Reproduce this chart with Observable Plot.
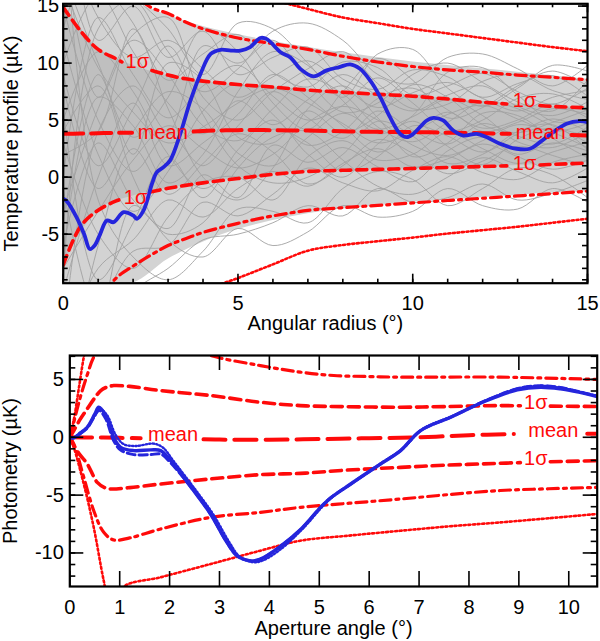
<!DOCTYPE html>
<html><head><meta charset="utf-8">
<script src="https://cdn.jsdelivr.net/npm/d3@7"></script>
<script src="https://cdn.jsdelivr.net/npm/@observablehq/plot@0.6"></script>
<style>body{margin:0;background:#fff;} #c svg{display:block;}</style>
</head><body><div id="c"></div>
<script>
// ---------------- TOP PANEL DATA (Temperature profile vs angular radius) ----------------
const topXTicks = [0, 5, 10, 15];
const topYTicks = [15, 10, 5, 0, -5];
const topXLabel = "Angular radius (°)";
const topYLabel = "Temperature profile (µK)";

// simulated profiles (gray), sampled at integer radii
const grayX = [0,1,2,3,4,5,6,7,8,9,10,11,12,13,14,15];
const graySims = [
 [17, 9.6, 5.7, 3.0, 4.4, 6.5, 7.8, 6.5, 4.7, 3.0, 4.0, 5.5, 6.3, 5.1, 4.0, 4.7],
 [-8, -3, 1.5, 4.5, 2.5, 0.8, 2.0, 4.8, 6.2, 5.0, 2.8, 1.9, 3.2, 4.6, 3.9, 2.6],
 [22, 14, 10.5, 12.0, 9.5, 7.0, 8.8, 10.2, 8.0, 6.1, 7.4, 8.3, 6.9, 5.8, 7.0, 7.6],
 [-15, -8, -5.5, -2.0, -3.5, -1.0, 0.5, -0.8, 1.2, 2.5, 0.9, 1.6, 2.9, 1.8, 0.7, 1.5],
 [5, 11, 7.5, 2.0, -1.0, 1.5, 4.2, 3.0, 0.5, 1.8, 4.5, 3.6, 2.2, 3.8, 5.1, 4.0],
 [12, 2, -3.0, 0.5, 5.8, 8.2, 5.5, 2.8, 4.0, 6.9, 7.8, 5.9, 4.3, 5.0, 6.4, 5.2],
 [-3, 6, 12.0, 9.0, 4.5, 3.2, 6.0, 8.6, 7.3, 4.4, 3.1, 4.8, 6.6, 6.0, 4.5, 3.6],
 [25, 18, 13.5, 8.5, 10.8, 12.5, 9.2, 7.9, 10.1, 9.6, 7.2, 8.0, 9.1, 7.5, 6.4, 7.8],
 [-12, -11, -6.5, -6.0, -2.2, -3.4, -1.5, 0.8, -0.5, -1.2, 0.6, 1.8, 0.4, -0.2, 1.3, 2.0],
 [8, -1, 4.0, 7.5, 6.0, 2.1, 1.0, 3.5, 5.6, 4.2, 5.3, 6.8, 5.4, 3.1, 2.6, 3.9],
 [0, 14, 9.0, 5.2, 8.0, 9.8, 7.1, 5.0, 6.3, 8.7, 6.5, 4.1, 5.0, 6.9, 7.3, 6.0],
 [-20, -6, 2.5, -1.5, 1.2, 3.8, 2.2, -0.6, 1.0, 3.3, 2.1, 0.3, 1.4, 2.7, 1.9, 0.9],
 [15, 5, 0.5, 3.8, 1.0, 4.5, 7.5, 5.2, 3.4, 5.8, 4.1, 2.9, 4.7, 3.6, 2.9, 4.4],
 [30, 12, 15.0, 10.5, 12.8, 9.0, 10.5, 11.4, 8.6, 7.7, 9.4, 8.8, 7.0, 8.2, 8.9, 7.1],
 [-6, 3, -2.0, -4.5, 0.2, -1.8, 2.8, 1.3, 2.6, 0.9, -0.4, 2.3, 3.5, 2.0, 3.0, 2.3],
 [10, 16, 11.0, 6.5, 3.8, 6.7, 4.6, 6.8, 9.0, 7.1, 5.8, 7.2, 8.0, 6.2, 5.4, 6.6],
 [-10, 0, 6.5, 1.0, 3.0, 5.5, 9.0, 7.0, 4.5, 2.2, 3.9, 5.7, 4.0, 4.8, 6.0, 5.5],
 [3, -5, -8.0, -3.5, -0.5, 0.0, -2.0, 1.8, 3.2, 1.5, 2.0, 3.9, 2.5, 1.2, 2.2, 3.1],
 [20, 7, 12.5, 14.0, 7.0, 5.0, 7.5, 9.5, 11.0, 8.2, 6.0, 6.4, 8.4, 9.0, 7.6, 6.8],
 [-4, 9, 2.0, 10.0, 8.5, 3.5, 3.0, 5.8, 3.9, 5.4, 8.1, 7.0, 4.6, 3.9, 4.8, 5.9],
 [6, -9, -4.0, 1.8, -1.8, 2.4, 5.0, 2.0, 0.0, 2.9, 4.9, 2.7, 1.1, 3.3, 4.3, 3.0],
 [-14, 4, 8.0, 4.0, 11.5, 10.0, 12.0, 8.5, 5.7, 6.5, 9.0, 10.0, 8.3, 6.6, 5.8, 8.5],
 [9, 1, 6.0, 11.5, 5.5, 1.0, -0.5, 0.0, 2.0, 4.9, 3.6, 1.2, 2.0, 4.0, 4.6, 2.4],
 [-1, -12, -2.5, -5.0, -4.0, 0.8, 3.5, 4.0, 1.5, -0.8, -1.5, 0.0, 1.7, 0.5, -0.5, 0.8],
 [18, 10, 3.5, 7.0, 13.0, 11.0, 6.5, 4.2, 7.5, 10.4, 8.5, 5.2, 6.1, 8.0, 9.3, 8.0],
 [-7, 7, 4.5, -0.5, 2.0, 7.5, 11.0, 9.8, 6.7, 3.8, 5.4, 9.2, 9.6, 7.2, 4.9, 5.0],
 [13, 20, 16.0, 13.0, 9.0, 13.5, 13.0, 10.0, 7.0, 10.8, 11.2, 7.8, 6.2, 7.8, 9.8, 9.3],
 [-17, -14, -10.0, -8.0, -5.5, -5.0, -4.0, -2.5, -3.4, -1.0, -2.2, -1.8, -0.6, -2.0, -1.4, -0.3],
 [2, 4, 13.0, 6.0, 0.0, -2.0, 0.8, 6.0, 8.0, 5.2, 1.8, 3.0, 5.6, 5.4, 3.4, 1.7],
 [24, -2, -7.0, -9.0, -6.5, -2.8, -3.0, -4.0, -1.0, 0.5, -0.2, -2.5, -1.0, 0.8, 0.2, -1.8],
 [-9, 13, 15.5, 11.0, 7.5, 9.5, 12.8, 13.5, 12.0, 9.0, 8.2, 10.5, 10.8, 9.5, 8.0, 9.8],
 [4, 8, 0.0, -5.5, -7.0, -4.5, -6.0, -4.8, -2.5, -3.5, -3.0, -1.0, -2.5, -2.8, -1.0, -2.2]
];
// density envelope of the gray bundle (outer ~2σ, inner ~1σ)
const grayOuterHi = [15.2, 15.2, 15.2, 14.2, 13.2, 12.5, 11.9, 11.4, 10.9, 10.5, 10.1, 9.8, 9.5, 9.2, 8.9, 8.6];
const grayOuterLo = [-9.3, -9.3, -9.3, -7.2, -5.7, -4.6, -3.8, -3.2, -2.8, -2.5, -2.2, -2.0, -1.8, -1.6, -1.4, -1.3];
const grayInnerHi = [15.2, 11.3, 9.8, 8.9, 8.4, 8.1, 7.9, 7.7, 7.5, 7.3, 7.1, 6.9, 6.6, 6.4, 6.2, 6.1];
const grayInnerLo = [-7.7, -2.9, -1.65, -0.98, -0.5, -0.12, 0.25, 0.5, 0.6, 0.68, 0.76, 0.85, 0.93, 1.02, 1.12, 1.23];

// red statistic curves (NaN = gap under a label)
const topGridX = [0, 0.5, 1, 1.5, 2, 2.5, 3, 3.5, 4, 5, 6, 7, 8, 9, 10, 11, 12, 13, 14, 15];
const topMeanX = [0, 0.5, 1, 1.5, 1.97, 2.9, 3.73, 4, 5, 6, 7, 8, 9, 10, 11, 12, 12.78, 13.7, 14.54, 15];
const topMeanY = [3.8, 3.82, 3.85, 3.88, 3.9, NaN, 4.0, 4.05, 4.12, 4.12, 4.08, 4.02, 3.97, 3.95, 3.9, 3.85, 3.8, NaN, 3.7, 3.66];
const topSig1UpX = [0, 0.5, 1, 1.5, 1.68, 2.1, 2.54, 3, 3.5, 4, 5, 6, 7, 8, 9, 10, 11, 12, 12.69, 13.2, 13.64, 14, 15];
const topSig1UpY = [14.9, 12.8, 11.2, 10.4, 10.1, NaN, 9.35, 8.95, 8.62, 8.42, 8.12, 7.9, 7.63, 7.45, 7.27, 7.1, 6.85, 6.57, 6.42, NaN, 6.28, 6.2, 6.08];
const topSig1LoX = [0, 0.5, 1, 1.5, 1.59, 2.05, 2.49, 3, 3.5, 4, 5, 6, 7, 8, 9, 10, 11, 12, 12.69, 13.2, 13.64, 14, 15];
const topSig1LoY = [-7.7, -4.3, -2.9, -2.1, -2.0, NaN, -1.3, -0.98, -0.72, -0.5, -0.12, 0.25, 0.5, 0.6, 0.68, 0.76, 0.85, 0.93, 0.99, NaN, 1.07, 1.12, 1.23];
const topSig2Up = [26, 23, 20.5, 18.5, 16.2, 14.9, 14.35, 13.6, 13.0, 12.2, 11.7, 11.2, 10.6, 10.1, 9.7, 9.4, 9.2, 8.95, 8.75, 8.54];
const topSig2Lo = [-20, -15, -11, -8.9, -7.8, -6.85, -6.0, -5.4, -4.85, -4.05, -3.4, -2.92, -2.68, -2.48, -2.26, -2.05, -1.85, -1.65, -1.45, -1.23];
const topSig3Up = [37, 33, 30, 27, 25, 23, 21.5, 20.2, 19, 17, 15.6, 14.75, 14.0, 13.5, 13.0, 12.6, 12.2, 11.8, 11.4, 11.05];
const topSig3Lo = [-30, -26, -23, -20.5, -18, -16, -14, -11.2, -10.0, -8.85, -7.65, -6.45, -5.95, -5.62, -5.3, -4.95, -4.65, -4.35, -4.0, -3.65];

// observed profile (blue)
const topObsX = [0, 0.1, 0.38, 0.6, 0.76, 0.9, 1.06, 1.25, 1.44, 1.73, 2.0, 2.11, 2.3, 2.54, 2.68, 2.87, 3.06, 3.35, 3.64, 3.93, 4.22, 4.5, 4.8, 5.07, 5.35, 5.64, 5.83, 6.21, 6.5, 6.78, 7.16, 7.54, 7.9, 8.21, 8.49, 8.78, 9.07, 9.35, 9.64, 9.83, 10.02, 10.4, 10.59, 10.87, 11.16, 11.45, 11.83, 12.11, 12.5, 12.97, 13.35, 13.64, 14.02, 14.4, 14.78, 15];
const topObsY = [-1.9, -2.1, -3.5, -5.0, -6.3, -6.0, -4.97, -3.8, -3.95, -3.07, -3.36, -3.65, -2.92, -0.58, 0.44, 0.88, 1.47, 3.8, 6.7, 9.07, 10.8, 11.17, 11.1, 11.1, 11.4, 12.2, 12.1, 10.97, 10.5, 9.5, 8.83, 9.36, 9.65, 9.89, 9.5, 8.48, 7.02, 5.26, 3.8, 3.51, 3.8, 4.97, 5.2, 4.97, 4.09, 3.65, 3.8, 3.51, 2.92, 2.49, 2.49, 3.07, 3.95, 4.68, 4.91, 4.82];

const topLabelText = ["1σ", "mean", "1σ", "1σ", "mean", "1σ"];
const topLabelX = [2.12, 2.85, 2.07, 13.2, 13.66, 13.2];
const topLabelY = [10.1, 3.95, -1.75, 6.7, 3.95, 1.2];

// ---------------- BOTTOM PANEL DATA (Photometry vs aperture angle) ----------------
const botXTicks = [0,1,2,3,4,5,6,7,8,9,10];
const botYTicks = [5, 0, -5, -10];
const botXLabel = "Aperture angle (°)";
const botYLabel = "Photometry (µK)";

const botMeanX = [0, 0.5, 1, 1.42, 2.05, 2.68, 3, 4, 5, 6, 7, 8, 8.9, 9.6, 10.37, 10.57];
const botMeanY = [0, -0.02, -0.05, -0.09, NaN, -0.18, -0.2, -0.22, -0.15, -0.08, 0.0, 0.18, 0.28, NaN, 0.3, 0.3];
const botSig1UpX = [0, 0.08, 0.2, 0.35, 0.5, 0.62, 0.75, 0.88, 1.2, 1.82, 2.82, 3.82, 4.62, 5.5, 6.63, 7.5, 8.63, 9.03, 9.35, 9.63, 10.57];
const botSig1UpY = [0, 0.58, 1.5, 2.46, 3.4, 4.04, 4.35, 4.47, 4.4, 4.04, 3.61, 3.03, 2.74, 2.65, 2.6, 2.65, 2.74, 2.72, NaN, 2.69, 2.66];
const botSig1LoX = [0, 0.08, 0.2, 0.35, 0.55, 0.7, 0.82, 1.2, 1.82, 2.82, 3.82, 4.62, 5.5, 6.63, 7.5, 8.63, 9.03, 9.35, 9.63, 10.57];
const botSig1LoY = [0, -0.72, -1.5, -2.3, -3.9, -4.35, -4.47, -4.35, -4.04, -3.6, -3.23, -3.12, -2.85, -2.6, -2.42, -2.25, -2.19, NaN, -2.12, -2.02];
const botSig2UpX = [0, 0.05, 0.2, 0.35, 0.48, 0.7, 1.0, 1.5, 2.0, 2.82, 3.82, 4.62, 5.29, 6.0, 6.63, 8.63, 10.57];
const botSig2UpY = [0, 0.8, 3.3, 5.4, 6.93, 8.3, 9.0, 9.0, 8.4, 7.07, 6.2, 5.63, 5.34, 5.25, 5.2, 5.2, 5.0];
const botSig2LoX = [0, 0.08, 0.28, 0.48, 0.68, 0.88, 1.2, 1.82, 2.82, 3.82, 4.62, 5.6, 6.63, 7.6, 8.63, 9.6, 10.57];
const botSig2LoY = [0, -0.58, -3.46, -6.35, -8.22, -8.88, -8.7, -7.93, -6.93, -6.49, -6.06, -5.7, -5.34, -4.95, -4.6, -4.45, -4.33];
const botSig3UpX = [0, 0.08, 0.18, 0.28, 0.4, 0.6, 1, 2, 3, 4, 6, 8, 10.57];
const botSig3UpY = [0, 1.5, 4.2, 6.93, 9.5, 12, 14, 13, 11.5, 10.5, 9.5, 9, 8.5];
const botSig3LoX = [0, 0.08, 0.28, 0.48, 0.68, 0.8, 0.95, 1.08, 1.82, 2.82, 3.82, 4.62, 5.6, 6.63, 7.6, 8.63, 9.6, 10.57];
const botSig3LoY = [0, -0.87, -4.04, -7.8, -12.4, -14.5, -14.5, -12.93, -12.1, -10.96, -9.8, -8.94, -8.5, -8.08, -7.7, -7.36, -7.0, -6.63];

const botObsX = [0, 0.08, 0.2, 0.35, 0.5, 0.58, 0.72, 0.88, 1.02, 1.28, 1.62, 1.82, 2.02, 2.48, 2.82, 3.15, 3.35, 3.62, 3.82, 4.2, 4.62, 5.16, 5.63, 6.23, 6.63, 7.03, 7.63, 8.36, 8.97, 9.43, 9.83, 10.2, 10.57];
const botObsY = [0, -0.05, 0.3, 0.87, 2.0, 2.6, 1.88, 0.0, -0.87, -1.15, -1.09, -1.15, -2.02, -4.6, -6.63, -9.09, -10.24, -10.68, -10.53, -9.5, -8.0, -5.48, -4.04, -2.3, -1.15, 0.58, 1.73, 3.18, 4.1, 4.33, 4.19, 3.9, 3.52];
const botObsDashY = [0, -0.05, 0.3, 0.8, 1.85, 2.35, 1.6, -0.3, -1.1, -1.5, -1.5, -1.45, -2.2, -4.6, -6.63, -9.09, -10.24, -10.68, -10.53, -9.5, -8.0, -5.48, -4.04, -2.3, -1.15, 0.58, 1.73, 3.22, 4.2, 4.45, 4.3, 3.95, 3.55];
const botObsDotX = [0, 0.08, 0.2, 0.35, 0.5, 0.62, 0.75, 0.92, 1.08, 1.33, 1.68, 1.87, 2.07, 2.53, 2.87, 3.2, 3.4, 3.67, 3.87, 4.25, 4.66, 5.2, 5.67, 6.27, 6.67, 7.07, 7.67, 8.4, 9.0, 9.43, 9.83, 10.2, 10.57];
const botObsDotY = [0, 0.0, 0.4, 0.9, 1.9, 2.4, 1.9, 0.2, -0.6, -0.75, -0.55, -0.9, -2.0, -4.6, -6.63, -9.09, -10.3, -10.8, -10.65, -9.6, -7.95, -5.4, -3.95, -2.15, -1.0, 0.7, 1.85, 3.3, 4.25, 4.45, 4.3, 3.95, 3.58];

const botLabelText = ["mean", "1σ", "mean", "1σ"];
const botLabelX = [2.07, 9.34, 9.69, 9.34];
const botLabelY = [0.2, 3.0, 0.55, -1.85];

// ---------------- drawing ----------------
const RED = "#ff0a0a", BLUE = "#2525dc", GRAY = "#a2a2a2";
const FONT = "Liberation Sans, Arial, Helvetica, sans-serif";
const pts = (xs, ys) => xs.map((x, i) => ({x, y: ys[i]}));
const range = (a, b) => d3.range(a, b + 1);

function redLine(data, width, dash) {
  return Plot.line(data, {x: "x", y: "y", stroke: RED, strokeWidth: width, strokeDasharray: dash, curve: "catmull-rom", clip: true});
}
function frameTicks(innerW, innerH, xMinor, xMajor, yMinor, yMajor, lx, LX, ly, LY) {
  const m = [];
  const addX = (arr, len) => {
    m.push(Plot.tickX(arr, {x: d => d, insetTop: innerH - len, stroke: "black", strokeWidth: 1.6}));
    m.push(Plot.tickX(arr, {x: d => d, insetBottom: innerH - len, stroke: "black", strokeWidth: 1.6}));
  };
  if (lx > 0) addX(xMinor, lx);
  addX(xMajor, LX);
  const addY = (arr, len) => {
    m.push(Plot.tickY(arr, {y: d => d, insetRight: innerW - len, stroke: "black", strokeWidth: 1.6}));
    m.push(Plot.tickY(arr, {y: d => d, insetLeft: innerW - len, stroke: "black", strokeWidth: 1.6}));
  };
  addY(yMinor, ly);
  addY(yMajor, LY);
  m.push(Plot.frame({stroke: "black", strokeWidth: 2.2}));
  return m;
}

// top panel
const T = {w: 600, h: 341, mt: 3.3, mb: 58.3, ml: 62.7, mr: 13};
const tW = T.w - T.ml - T.mr, tH = T.h - T.mt - T.mb;
const grayRows = graySims.flatMap((s, k) => s.map((y, i) => ({x: grayX[i], y, id: k})));
const bandRows = grayX.map((x, i) => ({x, oLo: grayOuterLo[i], oHi: grayOuterHi[i], iLo: grayInnerLo[i], iHi: grayInnerHi[i]}));

const topPlot = Plot.plot({
  width: T.w, height: T.h, marginTop: T.mt, marginBottom: T.mb, marginLeft: T.ml, marginRight: T.mr,
  x: {domain: [0, 15], label: null},
  y: {domain: [-9.3, 15.2], label: null},
  style: {fontFamily: FONT, fontSize: "20px", background: "white", overflow: "visible"},
  marks: [
    Plot.areaY(bandRows, {x: "x", y1: "oLo", y2: "oHi", fill: "#d3d3d3", curve: "catmull-rom", clip: true}),
    Plot.areaY(bandRows, {x: "x", y1: "iLo", y2: "iHi", fill: "#bfbfbf", curve: "catmull-rom", clip: true}),
    Plot.line(grayRows, {x: "x", y: "y", z: "id", stroke: GRAY, strokeWidth: 0.9, curve: "catmull-rom", clip: true}),
    redLine(pts(topGridX, topSig3Up), 2.6, "2,2.6"),
    redLine(pts(topGridX, topSig3Lo), 2.6, "2,2.6"),
    redLine(pts(topGridX, topSig2Up), 3.2, "11,5,3,5"),
    redLine(pts(topGridX, topSig2Lo), 3.2, "11,5,3,5"),
    redLine(pts(topSig1UpX, topSig1UpY), 3.6, "10,6"),
    redLine(pts(topSig1LoX, topSig1LoY), 3.6, "10,6"),
    redLine(pts(topMeanX, topMeanY), 4, "20,8"),
    Plot.line(pts(topObsX, topObsY), {x: "x", y: "y", stroke: BLUE, strokeWidth: 3.8, curve: "catmull-rom", clip: true}),
    Plot.text(topLabelText, {x: (d, i) => topLabelX[i], y: (d, i) => topLabelY[i], text: d => d, fill: RED, fontSize: 20}),
    ...frameTicks(tW, tH, range(0, 15), topXTicks, range(-9, 15), topYTicks, 4, 9, 5, 9),
    Plot.axisX(topXTicks, {anchor: "bottom", tickSize: 0, tickPadding: 13, fontSize: 20, tickFormat: d => String(d), label: null}),
    Plot.axisY(topYTicks, {anchor: "left", tickSize: 0, tickPadding: 4, fontSize: 20, tickFormat: d => String(d), label: null}),
    Plot.text([topXLabel], {frameAnchor: "bottom", dy: 47, lineAnchor: "bottom", textAnchor: "middle", fontSize: 20}),
    Plot.text([topYLabel], {frameAnchor: "left", dx: -52, rotate: -90, textAnchor: "middle", fontSize: 20})
  ]
});

// bottom panel
const B = {w: 600, h: 300, mt: 14, mb: 55, ml: 69.3, mr: 3.3};
const bW = B.w - B.ml - B.mr, bH = B.h - B.mt - B.mb;
const bottomPlot = Plot.plot({
  width: B.w, height: B.h, marginTop: B.mt, marginBottom: B.mb, marginLeft: B.ml, marginRight: B.mr,
  x: {domain: [0, 10.57], label: null},
  y: {domain: [-12.9, 7.07], label: null},
  style: {fontFamily: FONT, fontSize: "20px", background: "white", overflow: "visible"},
  marks: [
    redLine(pts(botSig3UpX, botSig3UpY), 2.6, "2,2.6"),
    redLine(pts(botSig3LoX, botSig3LoY), 2.6, "2,2.6"),
    redLine(pts(botSig2UpX, botSig2UpY), 3.2, "11,5,3,5"),
    redLine(pts(botSig2LoX, botSig2LoY), 3.2, "11,5,3,5"),
    redLine(pts(botSig1UpX, botSig1UpY), 3.6, "11,6"),
    redLine(pts(botSig1LoX, botSig1LoY), 3.6, "11,6"),
    redLine(pts(botMeanX, botMeanY), 4, "22,9"),
    Plot.line(pts(botObsDotX, botObsDotY), {x: "x", y: "y", stroke: BLUE, strokeWidth: 2.4, strokeDasharray: "1.3,2.2", curve: "catmull-rom", clip: true}),
    Plot.line(pts(botObsX, botObsDashY), {x: "x", y: "y", stroke: BLUE, strokeWidth: 3, strokeDasharray: "8,4", curve: "catmull-rom", clip: true}),
    Plot.line(pts(botObsX, botObsY), {x: "x", y: "y", stroke: BLUE, strokeWidth: 3.4, curve: "catmull-rom", clip: true}),
    Plot.text(botLabelText, {x: (d, i) => botLabelX[i], y: (d, i) => botLabelY[i], text: d => d, fill: RED, fontSize: 20}),
    ...frameTicks(bW, bH, [], botXTicks, range(-12, 7), botYTicks, 0, 15, 6, 14),
    Plot.axisX(botXTicks, {anchor: "bottom", tickSize: 0, tickPadding: 13, fontSize: 20, tickFormat: d => String(d), label: null}),
    Plot.axisY(botYTicks, {anchor: "left", tickSize: 0, tickPadding: 6, fontSize: 20, tickFormat: d => String(d), label: null}),
    Plot.text([botXLabel], {frameAnchor: "bottom", dy: 48, lineAnchor: "bottom", textAnchor: "middle", fontSize: 20}),
    Plot.text([botYLabel], {frameAnchor: "left", dx: -58.8, rotate: -90, textAnchor: "middle", fontSize: 20})
  ]
});

document.getElementById("c").append(topPlot, bottomPlot);
</script></body></html>
